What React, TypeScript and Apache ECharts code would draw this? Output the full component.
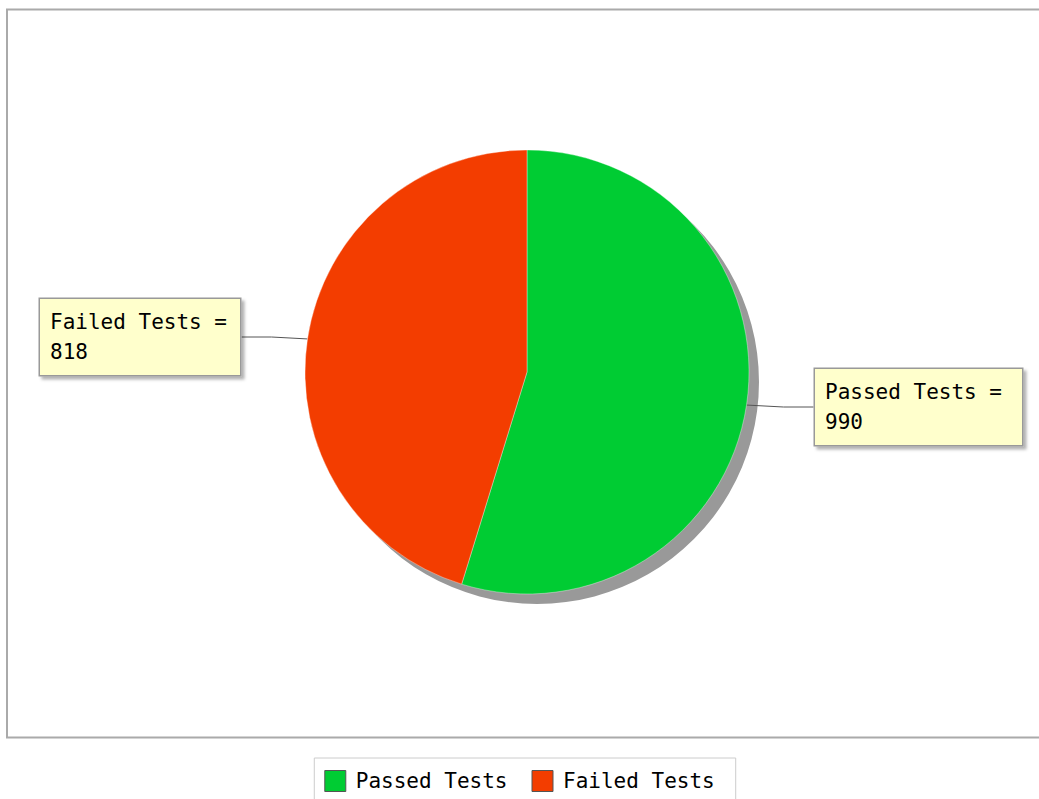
import React, { useEffect, useRef } from "react";
import * as echarts from "echarts";

const categories = ["Passed Tests", "Failed Tests"];
const values = [990, 818];
const colors = ["#00CC33", "#F33D00"];

export default function App() {
  const ref = useRef<HTMLDivElement>(null);
  useEffect(() => {
    if (!ref.current) return;
    const chart = echarts.init(ref.current, null, { renderer: "svg" });
    const total = values.reduce((a, b) => a + b, 0);
    const labelPos = [
      { x: 815, y: 369, w: 187 },
      { x: 40, y: 299, w: 180 },
    ];
    const font = "DejaVu Sans Mono";
    chart.setOption({
      animation: false,
      backgroundColor: "#ffffff",
      graphic: [
        {
          type: "rect",
          shape: { x: 7, y: 9.5, width: 1040, height: 728 },
          style: { fill: "none", stroke: "#aaaaaa", lineWidth: 2 },
          z: -10,
        },
      ],
      legend: {
        data: categories,
        top: 758,
        left: "center",
        borderColor: "#cccccc",
        borderWidth: 1,
        padding: [12, 21, 14, 10],
        itemWidth: 21,
        itemHeight: 21,
        itemGap: 24,
        icon: "rect",
        itemStyle: { borderColor: "#555", borderWidth: 1 },
        textStyle: { fontSize: 21, color: "#000", fontFamily: font, padding: [0, 0, 0, 5] },
      },
      series: [
        {
          type: "pie",
          name: "shadow",
          silent: true,
          center: [537, 382],
          radius: 222,
          z: 1,
          label: { show: false },
          labelLine: { show: false },
          itemStyle: { color: "#999999" },
          data: [{ name: "shadow", value: total }],
        },
        {
          type: "pie",
          name: "tests",
          center: [527, 372],
          radius: 222,
          startAngle: 90,
          clockwise: true,
          z: 2,
          itemStyle: { borderColor: "rgba(255,255,255,0.6)", borderWidth: 0.6 },
          data: categories.map((c, i) => ({
            name: c,
            value: values[i],
            itemStyle: { color: colors[i] },
            label: { width: labelPos[i].w },
          })),
          label: {
            show: true,
            position: "outside",
            formatter: (p: any) => `${p.name} =\n${p.value}`,
            fontSize: 21,
            lineHeight: 30,
            fontFamily: font,
            color: "#000",
            backgroundColor: "#FFFFCC",
            borderColor: "#999999",
            borderWidth: 1.5,
            padding: [8, 10, 8, 10],
            shadowColor: "rgba(0,0,0,0.3)",
            shadowOffsetX: 3,
            shadowOffsetY: 3,
            shadowBlur: 3,
            align: "left",
          },
          labelLine: {
            show: true,
            lineStyle: { color: "#555555", width: 1 },
          },
          labelLayout: (params: any) => {
            const p = labelPos[params.dataIndex];
            return { x: p.x, y: p.y, align: "left", verticalAlign: "top" };
          },
        },
      ],
    });
    return () => chart.dispose();
  }, []);
  return (
    <div
      ref={ref}
      style={{ position: "fixed", left: 0, top: 0, width: 1039, height: 799 }}
    />
  );
}
